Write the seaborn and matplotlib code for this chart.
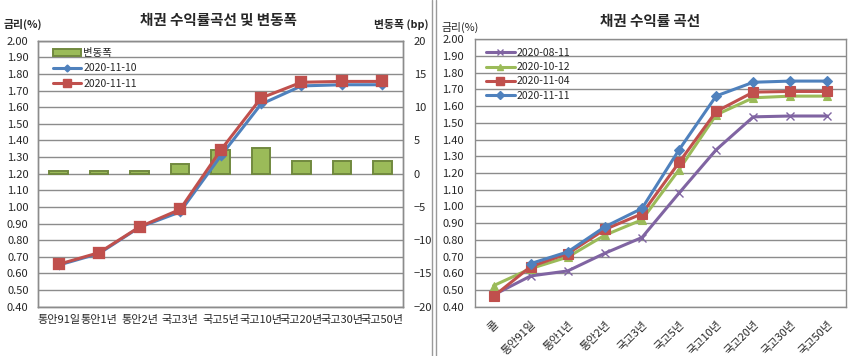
import numpy as np
import pandas as pd
import matplotlib
matplotlib.use("Agg")
import matplotlib.pyplot as plt
import seaborn as sns
from matplotlib.ticker import MultipleLocator, FixedLocator, NullFormatter
from matplotlib.patches import Patch
from matplotlib.lines import Line2D

# data
left_cats = ['통안91일', '통안1년', '통안2년', '국고3년', '국고5년', '국고10년', '국고20년', '국고30년', '국고50년']
yld_1110 = [0.650, 0.720, 0.878, 0.970, 1.305, 1.618, 1.728, 1.735, 1.735]
yld_1111 = [0.655, 0.725, 0.880, 0.985, 1.340, 1.655, 1.750, 1.755, 1.755]
chg_bp = [0.4, 0.4, 0.4, 1.4, 3.5, 3.9, 1.9, 1.9, 1.9]

right_cats = ['콜', '통안91일', '통안1년', '통안2년', '국고3년', '국고5년', '국고10년', '국고20년', '국고30년', '국고50년']
yld_0811 = [0.470, 0.584, 0.614, 0.720, 0.814, 1.080, 1.339, 1.536, 1.541, 1.541]
yld_1012 = [0.526, 0.628, 0.697, 0.828, 0.920, 1.220, 1.548, 1.650, 1.660, 1.660]
yld_1104 = [0.462, 0.640, 0.718, 0.862, 0.956, 1.263, 1.568, 1.684, 1.688, 1.688]
yld_1111r = [np.nan, 0.658, 0.728, 0.878, 0.988, 1.339, 1.661, 1.743, 1.750, 1.750]

BLUE, RED, GREEN, PURPLE = '#4F81BD', '#C0504D', '#9BBB59', '#8064A2'
BAR_EDGE = '#71893F'
GRID = '#8C8C8C'

sns.set_theme(style='white')
plt.rcParams['font.family'] = ['Noto Sans CJK KR', 'DejaVu Sans']

fig = plt.figure(figsize=(8.67, 3.56), dpi=100)


def style_axis(ax, n):
    for s in ax.spines.values():
        s.set_color(GRID)
        s.set_linewidth(1.0)
    ax.set_xlim(-0.5, n - 0.5)
    ax.xaxis.set_major_locator(FixedLocator(np.arange(0.5, n - 0.5)))
    ax.xaxis.set_major_formatter(NullFormatter())
    ax.tick_params(axis='x', which='major', direction='in', length=3, color=GRID, width=1)
    ax.set_xlabel('')
    ax.set_ylabel('')


# ---------- left: 채권 수익률곡선 및 변동폭 ----------
ax = fig.add_axes([0.0442, 0.1385, 0.4203, 0.7472])
ax2 = ax.twinx()

sns.barplot(x=left_cats, y=chg_bp, ax=ax2, color=GREEN, saturation=1,
            edgecolor=BAR_EDGE, linewidth=1.4, width=0.45, zorder=2)
ax2.set_ylim(-20, 20)
ax2.yaxis.set_major_locator(MultipleLocator(5))
ax2.yaxis.set_minor_locator(MultipleLocator(2.5))
ax2.grid(True, which='both', axis='y', color=GRID, linewidth=1.0)
ax2.set_axisbelow(True)
ax2.tick_params(axis='y', which='both', length=0, pad=8, labelsize=8)

sns.pointplot(x=left_cats, y=yld_1110, ax=ax, color=BLUE, markers='D',
              errorbar=None, linewidth=2.2, markersize=3.5, zorder=3)
sns.pointplot(x=left_cats, y=yld_1111, ax=ax, color=RED, markers='s',
              errorbar=None, linewidth=2.2, markersize=7, zorder=4)

ax.set_zorder(ax2.get_zorder() + 1)
ax.patch.set_visible(False)
ax.set_ylim(0.40, 2.00)
ax.yaxis.set_major_locator(MultipleLocator(0.1))
ax.yaxis.set_major_formatter(plt.FormatStrFormatter('%.2f'))
ax.tick_params(axis='y', length=0, pad=7, labelsize=8)
ax.grid(False)
style_axis(ax, len(left_cats))
style_axis(ax2, len(left_cats))
ax.xaxis.set_minor_locator(FixedLocator(np.arange(len(left_cats))))
ax.set_xticklabels(left_cats, minor=True)
ax.tick_params(axis='x', which='minor', length=0, pad=6, labelsize=8)
ax2.set_xticks([])

handles = [Patch(facecolor=GREEN, edgecolor=BAR_EDGE, linewidth=1.4),
           Line2D([], [], color=BLUE, lw=2.2, marker='D', ms=3.5),
           Line2D([], [], color=RED, lw=2.2, marker='s', ms=6)]
ax.legend(handles, ['변동폭', '2020-11-10', '2020-11-11'], loc='upper left',
          bbox_to_anchor=(0.035, 0.98), frameon=False, fontsize=7.5,
          handlelength=2.7, handleheight=0.6, handletextpad=0.2,
          labelspacing=0.5, borderpad=0.2, borderaxespad=0)

fig.text(218 / 867, 1 - 20 / 356, '채권 수익률곡선 및 변동폭', ha='center', va='center',
         fontsize=10.5, fontweight='bold')
fig.text(4 / 867, 1 - 24 / 356, '금리(%)', ha='left', va='center', fontsize=7.8, fontweight='bold')
fig.text(428 / 867, 1 - 24 / 356, '변동폭 (bp)', ha='right', va='center', fontsize=7.8, fontweight='bold')

# ---------- right: 채권 수익률 곡선 ----------
bx = fig.add_axes([0.5479, 0.1385, 0.4279, 0.7511])
right_series = [
    ('2020-08-11', yld_0811, PURPLE, 'x', 6),
    ('2020-10-12', yld_1012, GREEN, '^', 6),
    ('2020-11-04', yld_1104, RED, 's', 7),
    ('2020-11-11', yld_1111r, BLUE, 'D', 5),
]
for i, (lab, vals, col, mk, ms) in enumerate(right_series):
    sns.pointplot(x=right_cats, y=vals, order=right_cats, ax=bx, color=col, markers=mk,
                  errorbar=None, linewidth=2.2, markersize=ms, zorder=3 + i,
                  markeredgewidth=1.0 if mk == 'x' else 0.8)

bx.set_ylim(0.40, 2.00)
bx.yaxis.set_major_locator(MultipleLocator(0.1))
bx.yaxis.set_major_formatter(plt.FormatStrFormatter('%.2f'))
bx.grid(True, axis='y', color=GRID, linewidth=1.0)
bx.grid(False, axis='x')
bx.set_axisbelow(True)
bx.tick_params(axis='y', length=0, pad=8, labelsize=8)
style_axis(bx, len(right_cats))
bx.xaxis.set_minor_locator(FixedLocator(np.arange(len(right_cats))))
bx.set_xticklabels(right_cats, minor=True, rotation=45, ha='right', rotation_mode='anchor')
bx.tick_params(axis='x', which='minor', length=0, pad=9, labelsize=8)

rh = [Line2D([], [], color=c, lw=2.2, marker=m, ms=s * 0.8, mew=1.0) for _, _, c, m, s in right_series]
bx.legend(rh, [r[0] for r in right_series], loc='upper left',
          bbox_to_anchor=(0.025, 0.975), frameon=False, fontsize=7.5,
          handlelength=2.7, handletextpad=0.2, labelspacing=0.4,
          borderpad=0.2, borderaxespad=0)

fig.text(650 / 867, 1 - 21 / 356, '채권 수익률 곡선', ha='center', va='center',
         fontsize=10.5, fontweight='bold')
fig.text(441 / 867, 1 - 27 / 356, '금리(%)', ha='left', va='center', fontsize=7.8)

# double divider between the two charts
for xp in (431.5 / 867, 435.5 / 867):
    fig.add_artist(Line2D([xp, xp], [0, 1], color='#9A9A9A', lw=1.0, transform=fig.transFigure))

fig.savefig('out.png', dpi=100)
